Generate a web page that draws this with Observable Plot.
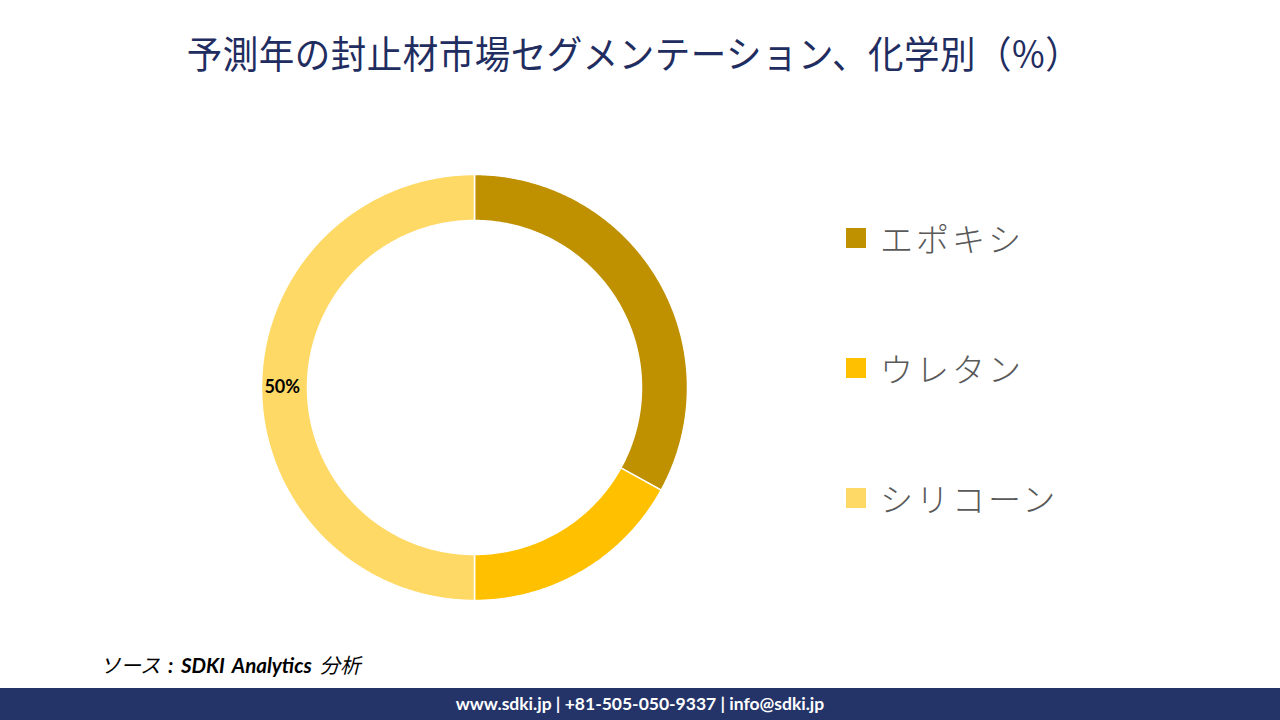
<!DOCTYPE html>
<html>
<head>
<meta charset="utf-8">
<script src="https://cdn.jsdelivr.net/npm/d3@7"></script>
<script src="https://cdn.jsdelivr.net/npm/@observablehq/plot@0.6"></script>
<style>
  html, body { margin: 0; padding: 0; background: #fff; }
  #page { position: relative; width: 1280px; height: 720px; overflow: hidden; background: #fff; font-family: "Noto Sans CJK JP", "Noto Sans", sans-serif; }
  #title { position: absolute; left: 0; width: 1268px; top: 25px; text-align: center; font-size: 35.5px; color: #1F2D60; font-weight: 400; letter-spacing: 0.5px; transform: scaleY(1.06); transform-origin: 50% 0; }
  #chart { position: absolute; left: 244px; top: 157px; }
  #legend { position: absolute; left: 846px; top: 0; }
  .item { position: absolute; left: 0; white-space: nowrap; display: flex; align-items: center; font-size: 33px; color: #595959; font-weight: 300; letter-spacing: 3px; }
  .sw { width: 20px; height: 20px; margin-right: 14px; }
  #source { position: absolute; left: 100px; top: 649px; font-size: 20.5px; font-style: italic; color: #000; font-family: "Noto Sans CJK JP", sans-serif; word-spacing: 3px; }
  #source b { font-family: Lato, sans-serif; font-weight: 700; }
  #footer { position: absolute; left: 0; top: 688px; width: 1280px; height: 32px; background: #243469; color: #fff; text-align: center; font-family: Lato, "Open Sans", sans-serif; font-weight: 700; font-size: 17.5px; line-height: 32px; }
</style>
</head>
<body>
<div id="page">
  <div id="title">予測年の封止材市場セグメンテーション、化学別（%）</div>
  <div id="chart"></div>
  <div id="legend"></div>
  <div id="source">ソース <b>: SDKI Analytics</b> 分析</div>
  <div id="footer">www.sdki.jp | +81-505-050-9337 | info@sdki.jp</div>
</div>
<script>
const categories = ["エポキシ", "ウレタン", "シリコーン"];
const values = [33, 17, 50];
const colors = ["#BF9000", "#FFC000", "#FFD966"];
const labelShown = [false, false, true];

const size = 460;
const rOuter = 213 / 230;
const rInner = 167 / 230;

const pie = d3.pie().sort(null).value(d => d.value);
const arcs = pie(categories.map((c, i) => ({category: c, value: values[i], color: colors[i], show: labelShown[i]})));

// ring polygons from pie angles (geometry only)
const polys = [];
arcs.forEach((a, k) => {
  const steps = Math.max(8, Math.ceil((a.endAngle - a.startAngle) / 0.01));
  const pts = [];
  for (let s = 0; s <= steps; s++) {
    const t = a.startAngle + (a.endAngle - a.startAngle) * s / steps;
    pts.push({x: rOuter * Math.sin(t), y: rOuter * Math.cos(t)});
  }
  for (let s = steps; s >= 0; s--) {
    const t = a.startAngle + (a.endAngle - a.startAngle) * s / steps;
    pts.push({x: rInner * Math.sin(t), y: rInner * Math.cos(t)});
  }
  pts.push(pts[0]);
  pts.forEach(p => polys.push({...p, category: a.data.category, color: a.data.color}));
});

const labels = arcs.filter(a => a.data.show).map(a => {
  const m = (a.startAngle + a.endAngle) / 2;
  const r = (rOuter + rInner) / 2 + 0.01;
  return {x: r * Math.sin(m), y: r * Math.cos(m), text: a.data.value + "%"};
});

const chart = Plot.plot({
  width: size, height: size,
  margin: 0,
  x: {domain: [-1, 1], axis: null},
  y: {domain: [-1, 1], axis: null},
  style: {background: "transparent", overflow: "visible"},
  marks: [
    Plot.line(polys, {x: "x", y: "y", z: "category", fill: "color", stroke: "#fff", strokeWidth: 1.5, curve: "linear"}),
    Plot.text(labels, {x: "x", y: "y", text: "text", fontSize: 18, fontWeight: "bold", fill: "#000", fontFamily: "Lato, 'Open Sans', sans-serif"})
  ]
});
document.getElementById("chart").appendChild(chart);

const legend = document.getElementById("legend");
const ys = [214, 344, 474];
categories.forEach((c, i) => {
  const it = document.createElement("div");
  it.className = "item";
  it.style.top = ys[i] + "px";
  it.innerHTML = `<span class="sw" style="background:${colors[i]}"></span><span>${c}</span>`;
  legend.appendChild(it);
});
</script>
</body>
</html>
